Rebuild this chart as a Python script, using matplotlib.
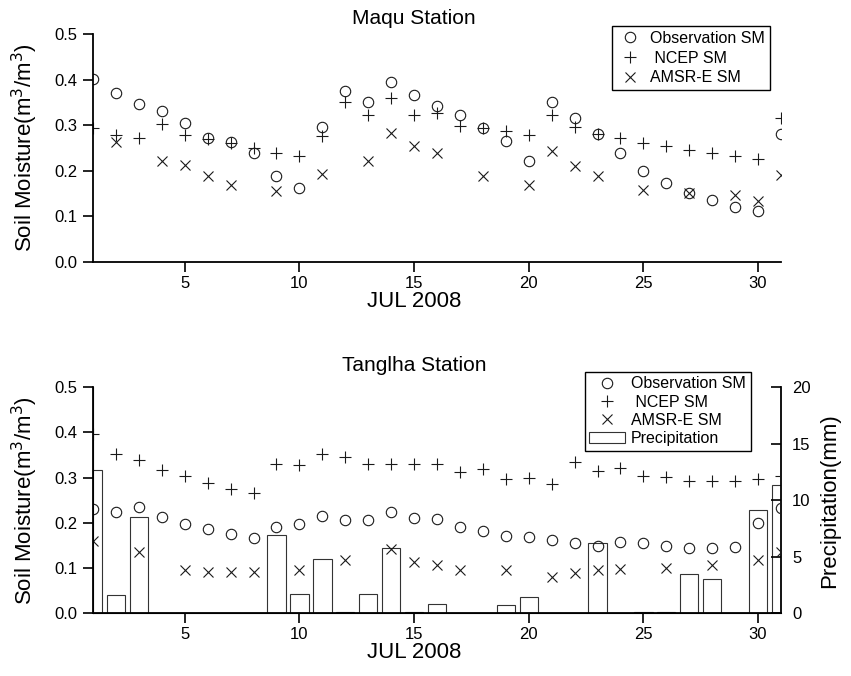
import matplotlib
matplotlib.use("Agg")
import matplotlib.pyplot as plt
import numpy as np

plt.rcParams['font.family'] = ['Liberation Sans', 'DejaVu Sans']

nan = np.nan
days = np.arange(1, 32)

# Maqu station soil moisture (m3/m3)
obs_maqu = [0.402, 0.370, 0.347, 0.331, 0.304, 0.271, 0.264, 0.238, 0.189, 0.163,
            0.297, 0.375, 0.350, 0.394, 0.367, 0.343, 0.323, 0.293, 0.266, 0.222,
            0.350, 0.315, 0.280, 0.240, 0.200, 0.174, 0.152, 0.136, 0.120, 0.111, 0.280]
ncep_maqu = [0.293, 0.279, 0.273, 0.303, 0.279, 0.269, 0.260, 0.251, 0.240, 0.232,
             0.276, 0.350, 0.323, 0.359, 0.323, 0.326, 0.299, 0.293, 0.287, 0.279,
             0.323, 0.295, 0.280, 0.271, 0.262, 0.254, 0.246, 0.240, 0.232, 0.225, 0.315]
amsr_maqu = [nan, 0.264, nan, 0.222, 0.213, 0.188, 0.169, nan, 0.156, nan,
             0.194, nan, 0.222, 0.282, 0.255, 0.240, nan, 0.189, nan, 0.169,
             0.244, 0.211, 0.189, nan, 0.159, nan, 0.152, nan, 0.147, 0.133, 0.191]

# Tanglha station soil moisture (m3/m3) and precipitation (mm)
obs_tang = [0.230, 0.224, 0.235, 0.213, 0.198, 0.186, 0.176, 0.166, 0.191, 0.197,
            0.216, 0.207, 0.207, 0.225, 0.211, 0.208, 0.191, 0.181, 0.171, 0.169,
            0.163, 0.156, 0.148, 0.158, 0.156, 0.149, 0.144, 0.145, 0.146, 0.200, 0.232]
ncep_tang = [0.396, 0.352, 0.339, 0.317, 0.303, 0.288, 0.275, 0.266, 0.330, 0.328,
             0.352, 0.345, 0.331, 0.331, 0.331, 0.331, 0.313, 0.320, 0.297, 0.298,
             0.285, 0.335, 0.314, 0.322, 0.303, 0.302, 0.292, 0.292, 0.292, 0.297, 0.303]
amsr_tang = [0.161, nan, 0.135, nan, 0.096, 0.091, 0.091, 0.091, nan, 0.095,
             nan, 0.119, nan, 0.142, 0.113, 0.106, 0.095, nan, 0.095, nan,
             0.081, 0.089, 0.097, 0.098, nan, 0.100, nan, 0.106, nan, 0.117, 0.135]
precip = [12.7, 1.6, 8.5, 0, 0, 0, 0, 0, 6.9, 1.7,
          4.8, 0.1, 1.7, 5.8, 0.1, 0.83, 0, 0, 0.74, 1.42,
          0.06, 0, 6.24, 0.06, 0.12, 0.12, 3.49, 3.05, 0, 9.11, 11.33]

fig = plt.figure(figsize=(8.51, 6.76), dpi=100)
ax1 = fig.add_axes([0.1093, 0.6124, 0.8084, 0.3373])
ax2 = fig.add_axes([0.1093, 0.0925, 0.8084, 0.335])

mk = dict(linestyle='none', color='#1a1a1a', markersize=7.5, markeredgewidth=0.8)


def sm_points(ax, obs, ncep, amsr):
    h1, = ax.plot(days, obs, marker='o', markerfacecolor='none', label='Observation SM', **mk)
    h2, = ax.plot(days, ncep, marker='+', markersize=9, label=' NCEP SM',
                  linestyle='none', color='#1a1a1a', markeredgewidth=0.8)
    h3, = ax.plot(days, amsr, marker='x', label='AMSR-E SM', **mk)
    return [h1, h2, h3]


def style(ax):
    ax.set_xlim(1, 31)
    ax.set_ylim(0, 0.5)
    ax.set_xticks([5, 10, 15, 20, 25, 30])
    ax.set_yticks([0.0, 0.1, 0.2, 0.3, 0.4, 0.5])
    ax.yaxis.set_major_formatter(matplotlib.ticker.FormatStrFormatter('%.1f'))
    ax.tick_params(direction='out', length=7, width=1.2, labelsize=12, pad=4)
    ax.tick_params(axis='x', pad=3)
    for s in ['top', 'right']:
        ax.spines[s].set_visible(False)
    for s in ['left', 'bottom']:
        ax.spines[s].set_linewidth(1.3)
    ax.set_ylabel('Soil Moisture(m$^3$/m$^3$)', fontsize=16)
    ax.yaxis.set_label_coords(-0.077, 0.5)
    ax.set_xlabel('JUL 2008', fontsize=16, labelpad=0, x=0.467)


# Maqu
hs = sm_points(ax1, obs_maqu, ncep_maqu, amsr_maqu)
style(ax1)
ax1.text(0.467, 1.07, 'Maqu Station', transform=ax1.transAxes, ha='center', va='center', fontsize=15)
leg = ax1.legend(handles=hs, loc='upper right', bbox_to_anchor=(0.984, 1.035), fontsize=11.5,
                 frameon=True, fancybox=False, edgecolor='black', framealpha=1,
                 handlelength=1.7, handletextpad=0.4, labelspacing=0.3, borderpad=0.3,
                 borderaxespad=0)
leg.get_frame().set_linewidth(1.0)

# Tanglha
ax3 = ax2.twinx()
bars = ax3.bar(days, precip, width=0.8, facecolor='none', edgecolor='#333333', linewidth=0.8,
               label='Precipitation')
ax3.set_ylim(0, 20)
ax3.set_yticks([0, 5, 10, 15, 20])
ax3.tick_params(direction='in', length=7, width=1.2, labelsize=12, pad=8)
ax3.spines['right'].set_linewidth(1.3)
ax3.spines['top'].set_visible(False)
ax3.set_ylabel('Precipitation(mm)', fontsize=16, labelpad=6)

hs2 = sm_points(ax2, obs_tang, ncep_tang, amsr_tang)
style(ax2)
ax2.set_zorder(ax3.get_zorder() + 1)
ax2.patch.set_visible(False)
ax2.text(0.467, 1.095, 'Tanglha Station', transform=ax2.transAxes, ha='center', va='center', fontsize=15)
leg2 = ax2.legend(handles=hs2 + [bars], loc='upper right', bbox_to_anchor=(0.956, 1.068), fontsize=11.5,
                  frameon=True, fancybox=False, edgecolor='black', framealpha=1,
                  handlelength=2.2, handletextpad=0.4, labelspacing=0.2, borderpad=0.3,
                  borderaxespad=0)
leg2.get_frame().set_linewidth(1.0)

fig.savefig('out.png', dpi=100)
